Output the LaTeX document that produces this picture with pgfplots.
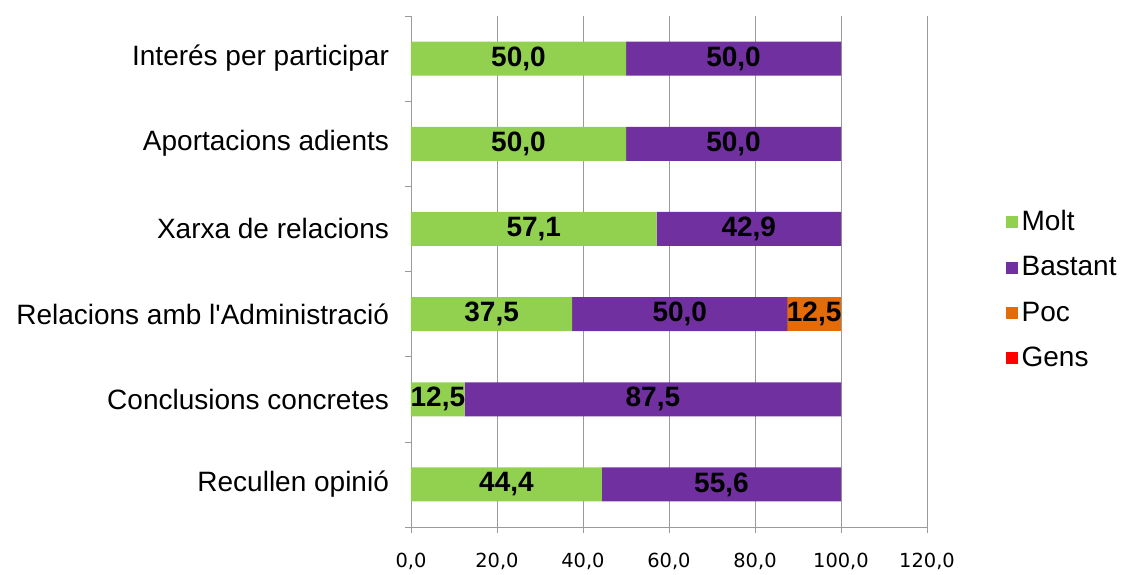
\documentclass[border=0pt]{standalone}
\usepackage{fontspec}
\setmainfont{Liberation Sans}
\newfontfamily\tickfont{DejaVu Sans}
\usepackage{pgfplots}
\usepackage{pgfplotstable}
\pgfplotsset{compat=1.18}

\definecolor{molt}{HTML}{92D050}
\definecolor{bastant}{HTML}{7030A0}
\definecolor{poc}{HTML}{E36C09}
\definecolor{gens}{HTML}{FF0000}
\definecolor{axgray}{HTML}{9A9A9A}

% i = 0 is the bottom row
\pgfplotstableread{
i molt bastant poc gens
0 44.4 55.6 0    0
1 12.5 87.5 0    0
2 37.5 50.0 12.5 0
3 57.1 42.9 0    0
4 50.0 50.0 0    0
5 50.0 50.0 0    0
}\data

\begin{document}
\begin{tikzpicture}
\useasboundingbox (-205.5pt,-23.5pt) rectangle (356pt,263.5pt);
\begin{axis}[
  at={(0,0)}, anchor=south west,
  scale only axis,
  width=258pt, height=255.5pt,
  xbar stacked,
  bar width=17pt,
  xmin=0, xmax=120,
  ymin=-0.5, ymax=5.5,
  xtick={0,20,...,120},
  ytick={0,...,5},
  yticklabels={Recullen opinió, Conclusions concretes, Relacions amb l\textquotesingle Administració, Xarxa de relacions, Aportacions adients, Interés per participar},
  minor ytick={-0.5,0.5,...,5.5},
  /pgf/number format/.cd, use comma, fixed, fixed zerofill, precision=1, assume math mode=true,
  /pgfplots/.cd,
  axis x line*=bottom,
  axis y line*=left,
  axis line style={-, draw=axgray},
  xmajorgrids,
  major x grid style={draw=axgray},
  tick align=outside,
  major x tick style={draw=axgray},
  major y tick style={draw=none},
  minor y tick style={draw=axgray},
  major tick length=3pt,
  minor tick length=3pt,
  xticklabel style={font=\tickfont\fontsize{9.7}{12}\selectfont, yshift=-6.5pt},
  yticklabel style={font=\fontsize{14}{16}\selectfont, xshift=-4.5pt},
  nodes near coords={\pgfmathfloatifflags{\pgfplotspointmeta}{0}{}{\pgfmathprintnumber{\pgfplotspointmeta}}},
  every node near coord/.append style={font=\bfseries\fontsize{14}{16}\selectfont, text=black, anchor=center},
  point meta=explicit,
  legend style={at={(1.14,0.464)}, anchor=west, draw=none, fill=none, font=\fontsize{14}{16}\selectfont, row sep=7.5pt},
  legend cell align=left,
  legend image code/.code={\fill[#1, draw=none] (-1pt,-3pt) rectangle (5pt,3pt);},
]
\addplot[fill=molt, draw=none] table[x=molt, y=i, meta=molt] {\data};
\addlegendentry{Molt}
\addplot[fill=bastant, draw=none] table[x=bastant, y=i, meta=bastant] {\data};
\addlegendentry{Bastant}
\addplot[fill=poc, draw=none] table[x=poc, y=i, meta=poc] {\data};
\addlegendentry{Poc}
\addplot[fill=gens, draw=none] table[x=gens, y=i, meta=gens] {\data};
\addlegendentry{Gens}
\end{axis}
\end{tikzpicture}
\end{document}
